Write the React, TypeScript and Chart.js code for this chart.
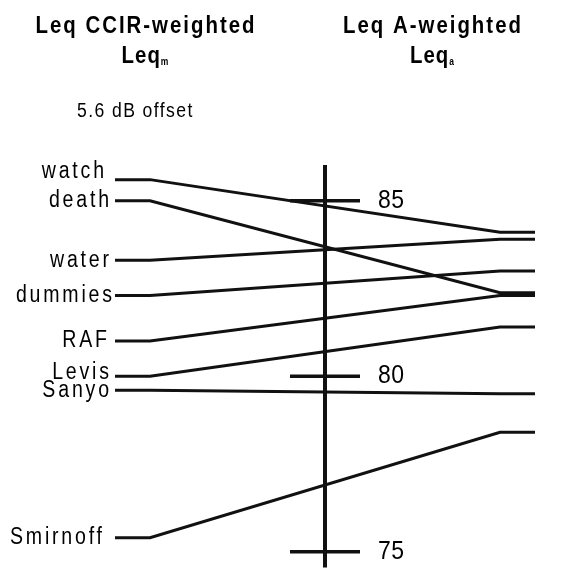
import React, { useEffect, useRef } from "react";
import { Chart, registerables } from "chart.js";

Chart.register(...registerables);

// ---- data ----
const categories = ["watch", "death", "water", "dummies", "RAF", "Levis", "Sanyo", "Smirnoff"];
// Leq CCIR-weighted (with 5.6 dB offset), left column
const leqM = [85.6, 85.0, 83.3, 82.3, 81.0, 80.0, 79.6, 75.4];
// Leq A-weighted, right column
const leqA = [84.1, 82.38, 83.9, 83.0, 82.3, 81.4, 79.5, 78.4];
const tickValues = [85, 80, 75];
const tickLabels = ["85", "80", "75"];
const leftTitle = ["Leq CCIR-weighted", "Leq", "m"];
const rightTitle = ["Leq A-weighted", "Leq", "a"];
const offsetNote = "5.6 dB offset";

// ---- layout (not data) ----
const labelNudgeY = [-8, 0, 0, 0, 0, -4, 0, 0];
const labelNudgeX = [-5, 0, 0, 3, -2, 0, 0, -7];
const X_L0 = 0, X_L1 = 1, X_AXIS = 6, X_TICK0 = 5, X_TICK1 = 7, X_R0 = 11, X_R1 = 12;
const AXIS_TOP = 86.02, AXIS_BOTTOM = 74.55;
const INK = "#111111";
const FONT = '"Liberation Sans", Arial, Helvetica, sans-serif';

type Align = "left" | "right" | "center";
function drawText(
  ctx: CanvasRenderingContext2D,
  text: string,
  x: number,
  y: number,
  font: string,
  sx: number,
  ls: number,
  align: Align,
  baseline: CanvasTextBaseline
): number {
  ctx.save();
  ctx.font = font;
  (ctx as any).letterSpacing = `${ls / sx}px`;
  ctx.textAlign = "left";
  ctx.textBaseline = baseline;
  const w = (ctx.measureText(text).width - ls / sx) * sx;
  const x0 = align === "left" ? x : align === "right" ? x - w : x - w / 2;
  ctx.translate(x0, y);
  ctx.scale(sx, 1);
  ctx.fillText(text, 0, 0);
  ctx.restore();
  return w;
}
function textWidth(ctx: CanvasRenderingContext2D, text: string, font: string, sx: number, ls: number) {
  ctx.save();
  ctx.font = font;
  (ctx as any).letterSpacing = `${ls / sx}px`;
  const w = ctx.measureText(text).width * sx;
  ctx.restore();
  return w;
}

const overlay = {
  id: "slopeOverlay",
  afterDatasetsDraw(chart: any) {
    const ctx = chart.ctx as CanvasRenderingContext2D;
    const xs = chart.scales.x;
    const ys = chart.scales.y;
    ctx.save();
    ctx.strokeStyle = INK;
    ctx.fillStyle = "#000";
    ctx.lineCap = "butt";

    // central axis
    const ax = xs.getPixelForValue(X_AXIS);
    ctx.lineWidth = 4;
    ctx.beginPath();
    ctx.moveTo(ax, ys.getPixelForValue(AXIS_TOP));
    ctx.lineTo(ax, ys.getPixelForValue(AXIS_BOTTOM));
    ctx.stroke();

    // ticks + labels
    ctx.lineWidth = 3.5;
    tickValues.forEach((v, i) => {
      const y = ys.getPixelForValue(v);
      ctx.beginPath();
      ctx.moveTo(xs.getPixelForValue(X_TICK0), y);
      ctx.lineTo(xs.getPixelForValue(X_TICK1), y);
      ctx.stroke();
      drawText(ctx, tickLabels[i], xs.getPixelForValue(X_TICK1) + 18, y, `25px ${FONT}`, 0.92, 0.5, "left", "middle");
    });

    // category labels
    const lx = xs.getPixelForValue(X_L0) - 6;
    categories.forEach((c, i) => {
      drawText(
        ctx,
        c,
        lx + labelNudgeX[i],
        ys.getPixelForValue(leqM[i]) + labelNudgeY[i],
        `23px ${FONT}`,
        0.85,
        2.8,
        "right",
        "middle"
      );
    });

    // titles
    const drawTitle = (t: string[], cx: number) => {
      const big = `bold 24px ${FONT}`;
      const small = `bold 10px ${FONT}`;
      drawText(ctx, t[0], cx, 33, big, 0.85, 2, "center", "alphabetic");
      const w2 = textWidth(ctx, t[1], big, 0.85, 1);
      const w3 = textWidth(ctx, t[2], small, 0.85, 0);
      const start = cx - (w2 + w3) / 2;
      drawText(ctx, t[1], start, 63, big, 0.85, 1, "left", "alphabetic");
      drawText(ctx, t[2], start + w2, 65, small, 0.85, 0, "left", "alphabetic");
    };
    drawTitle(leftTitle, 145);
    drawTitle(rightTitle, 432);

    // offset note
    drawText(ctx, offsetNote, 77, 117, `20px ${FONT}`, 0.88, 1.4, "left", "alphabetic");

    ctx.restore();
  },
};

export default function App() {
  const ref = useRef<HTMLCanvasElement | null>(null);
  useEffect(() => {
    document.body.style.margin = "0";
    if (!ref.current) return;
    const datasets = categories.map((c, i) => ({
      label: c,
      data: [
        { x: X_L0, y: leqM[i] },
        { x: X_L1, y: leqM[i] },
        { x: X_R0, y: leqA[i] },
        { x: X_R1, y: leqA[i] },
      ],
      borderColor: INK,
      borderWidth: 3,
      pointRadius: 0,
      tension: 0,
      fill: false,
      borderJoinStyle: "miter" as const,
      borderCapStyle: "butt" as const,
      clip: false as any,
    }));
    const chart = new Chart(ref.current, {
      type: "line",
      data: { datasets },
      options: {
        animation: false,
        responsive: false,
        devicePixelRatio: 1,
        layout: { padding: 0 },
        plugins: { legend: { display: false }, tooltip: { enabled: false }, title: { display: false } },
        events: [],
        scales: {
          x: { type: "linear", display: false, min: -115 / 35, max: (566 - 115) / 35 },
          y: { type: "linear", display: false, min: 85 - 368.3 / 35.1, max: 85 + 200.7 / 35.1 },
        },
      },
      plugins: [overlay],
    });
    return () => chart.destroy();
  }, []);
  return (
    <div style={{ width: 566, height: 569, background: "#fff" }}>
      <canvas ref={ref} width={566} height={569} style={{ display: "block" }} />
    </div>
  );
}
